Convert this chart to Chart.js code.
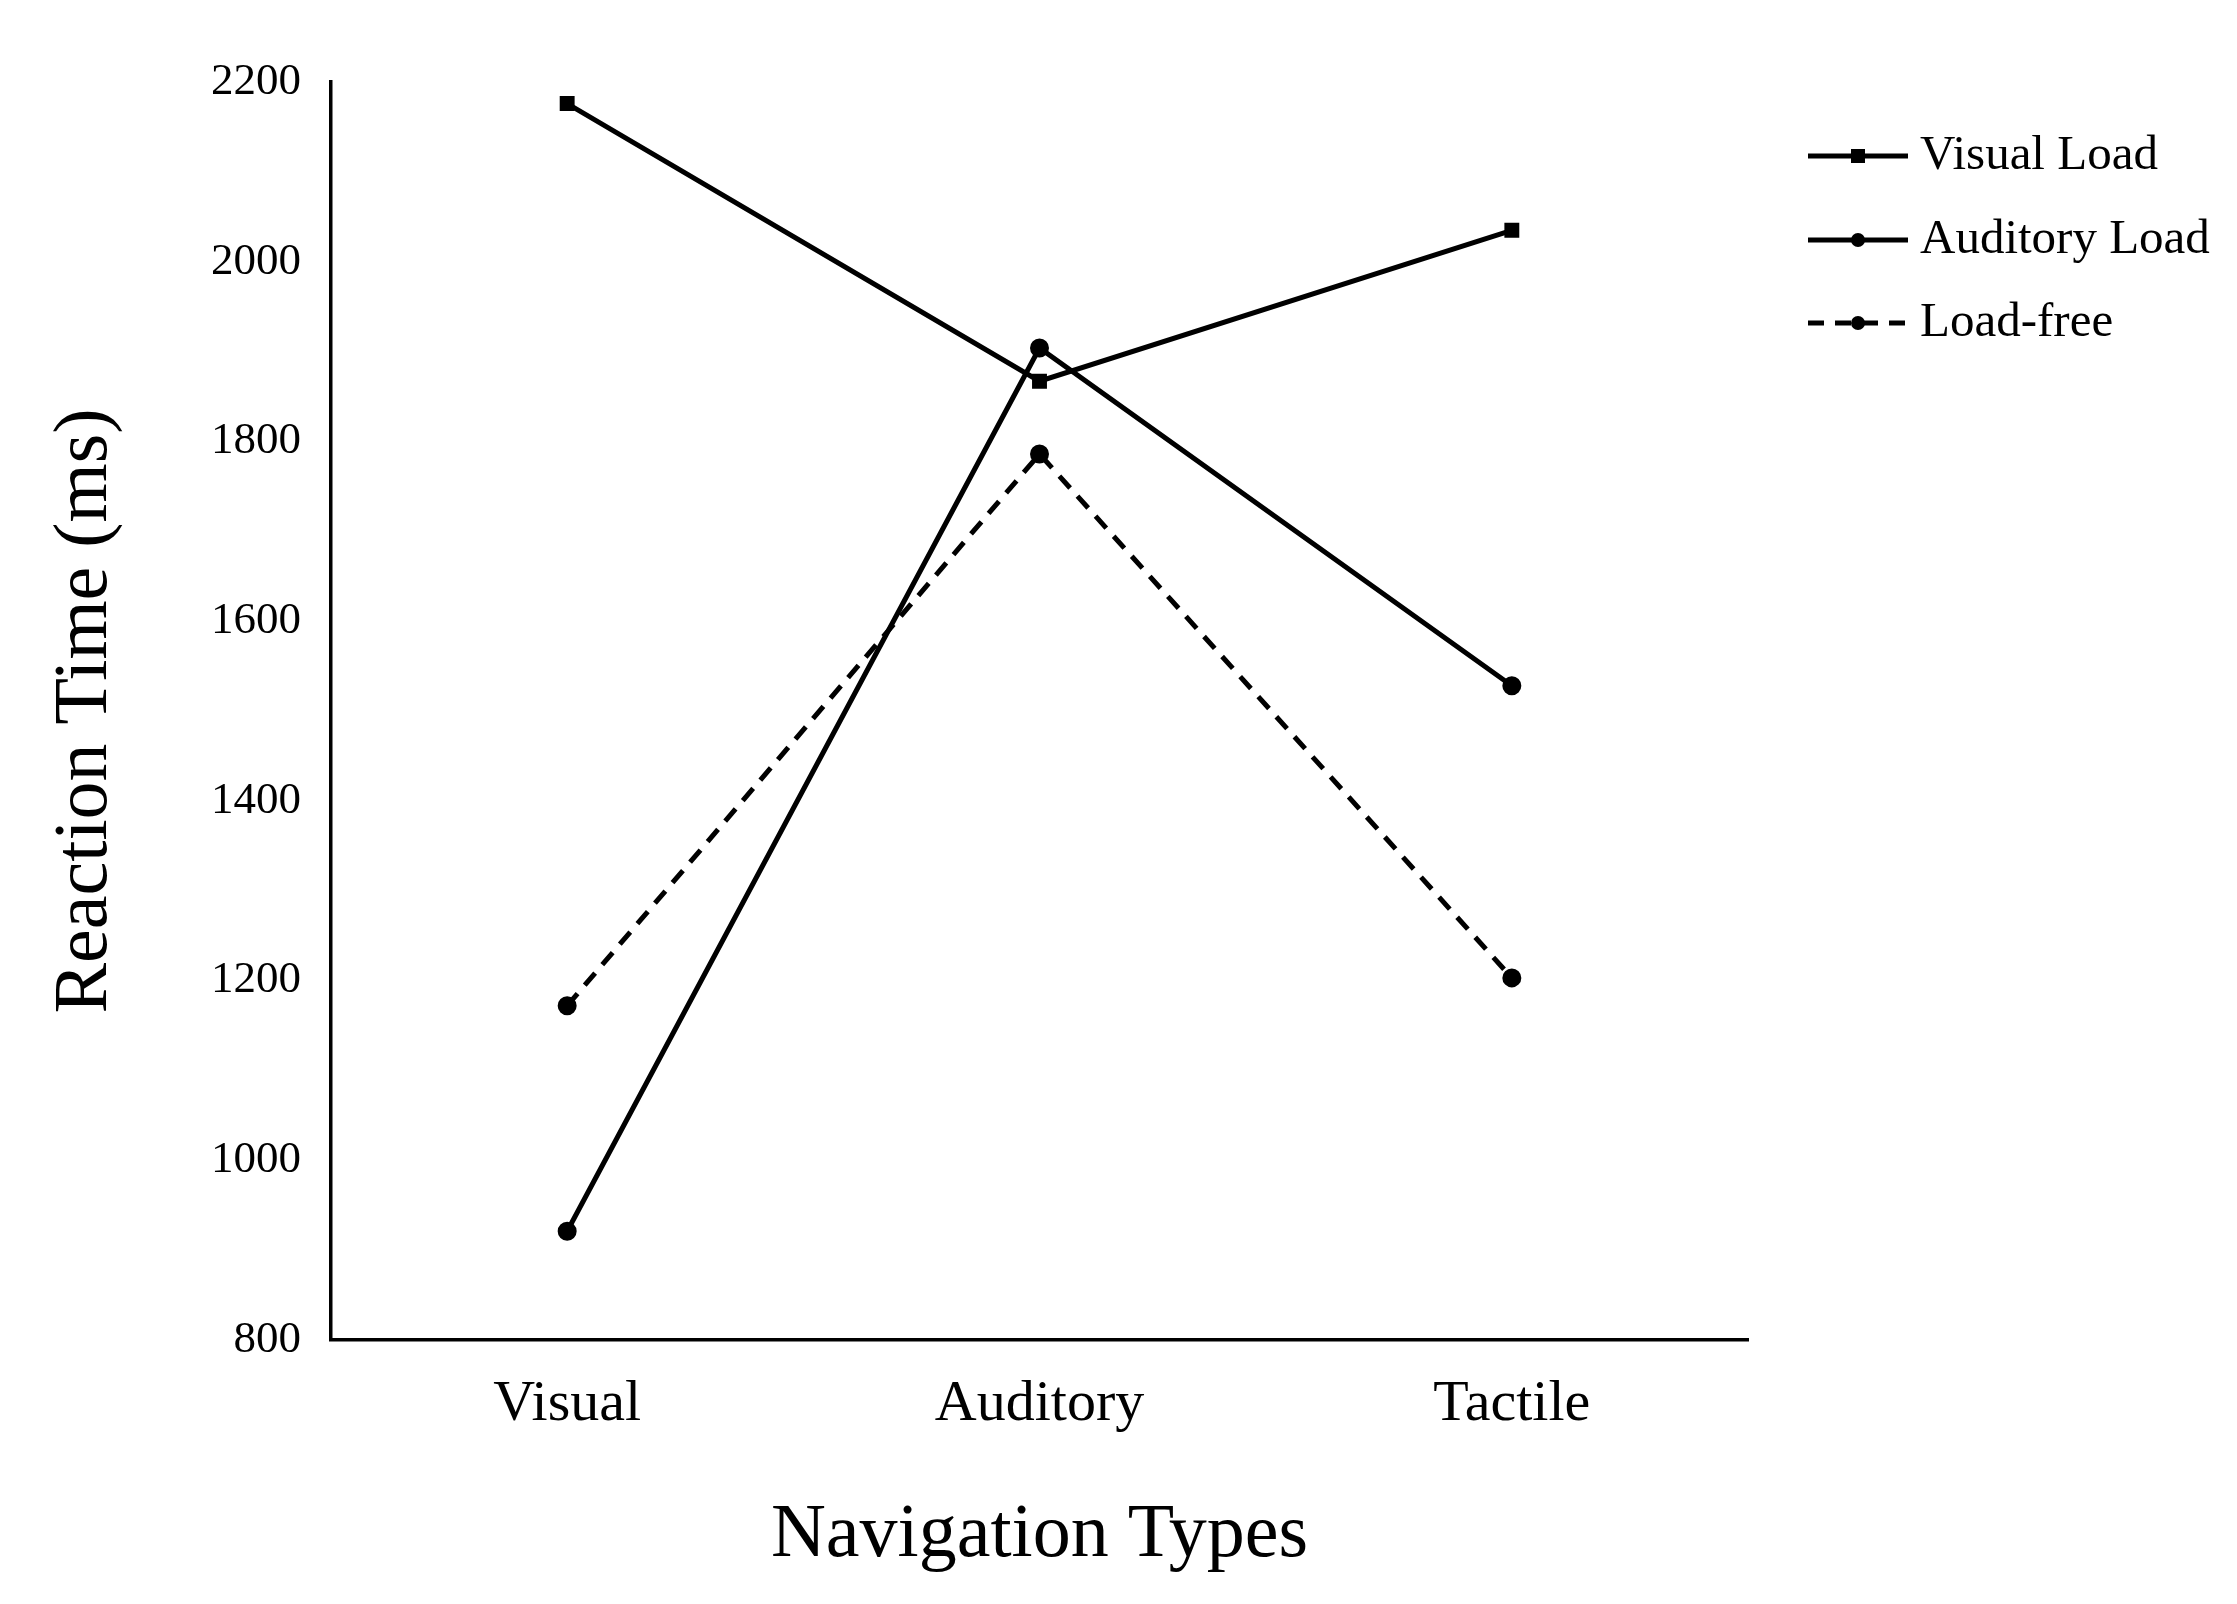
<!DOCTYPE html>
<html><head><meta charset="utf-8">
<script src="https://cdn.jsdelivr.net/npm/chart.js@4/dist/chart.umd.min.js"></script>
<style>html,body{margin:0;padding:0;background:#fff}#wrap{width:2237px;height:1604px}</style>
</head><body><div id="wrap"><canvas id="c"></canvas></div>
<script>
const categories = ["Visual", "Auditory", "Tactile"];
const visualLoad = [2176, 1867, 2035];
const auditoryLoad = [921, 1904, 1528];
const loadFree = [1172, 1786, 1203];
const yTicks = [800, 1000, 1200, 1400, 1600, 1800, 2000, 2200];
const FONT = "'Liberation Serif', 'Times New Roman', serif";

const legendPlugin = {
  id: 'sideLegend',
  afterDraw(chart) {
    const ctx = chart.ctx;
    const x0 = 1808, x1 = 1908, ys = [156, 240, 323];
    chart.data.datasets.forEach((ds, i) => {
      const y = ys[i];
      ctx.save();
      ctx.strokeStyle = '#000'; ctx.lineWidth = 5;
      ctx.setLineDash(ds.borderDash || []);
      ctx.beginPath(); ctx.moveTo(x0, y); ctx.lineTo(x1, y); ctx.stroke();
      ctx.setLineDash([]);
      ctx.fillStyle = '#000';
      const cx = (x0 + x1) / 2;
      if (ds.pointStyle === 'rect') ctx.fillRect(cx - 7, y - 7, 14, 14);
      else { ctx.beginPath(); ctx.arc(cx, y, 7, 0, Math.PI * 2); ctx.fill(); }
      ctx.font = '49px ' + FONT; ctx.textBaseline = 'middle';
      ctx.fillText(ds.label, 1920, y);
      ctx.restore();
    });
  }
};

new Chart(document.getElementById('c'), {
  type: 'line',
  data: {
    labels: categories,
    datasets: [
      { label: 'Visual Load', data: visualLoad, pointStyle: 'rect' },
      { label: 'Auditory Load', data: auditoryLoad, pointStyle: 'circle' },
      { label: 'Load-free', data: loadFree, pointStyle: 'circle', borderDash: [16, 11] }
    ].map(d => Object.assign({ borderColor: '#000', backgroundColor: '#000', borderWidth: 5, pointRadius: 7, pointHoverRadius: 7, tension: 0, fill: false }, d))
  },
  options: {
    responsive: true, maintainAspectRatio: false, animation: false,
    layout: { padding: { top: 82, right: 489, left: 40, bottom: 0 } },
    plugins: { legend: { display: false }, tooltip: { enabled: false } },
    scales: {
      x: {
        offset: true,
        grid: { display: false, drawTicks: false },
        border: { color: '#000', width: 3.5 },
        ticks: { color: '#000', font: { family: FONT, size: 58 }, padding: 30 },
        title: { display: true, text: 'Navigation Types', color: '#000', font: { family: FONT, size: 76 }, padding: { top: 20, bottom: 22 } },
        afterFit(s) { s.height = 264; }
      },
      y: {
        min: 800, max: 2200,
        afterBuildTicks(s) { s.ticks = yTicks.map(v => ({ value: v })); },
        grid: { display: false, drawTicks: false },
        border: { color: '#000', width: 3.5 },
        ticks: { color: '#000', font: { family: FONT, size: 45 }, padding: 30, callback: v => String(v) },
        title: { display: true, text: 'Reaction Time (ms)', color: '#000', font: { family: FONT, size: 76 }, padding: { top: 0, bottom: 10 } },
        afterFit(s) { s.width = 291; }
      }
    }
  },
  plugins: [legendPlugin]
});
</script></body></html>
